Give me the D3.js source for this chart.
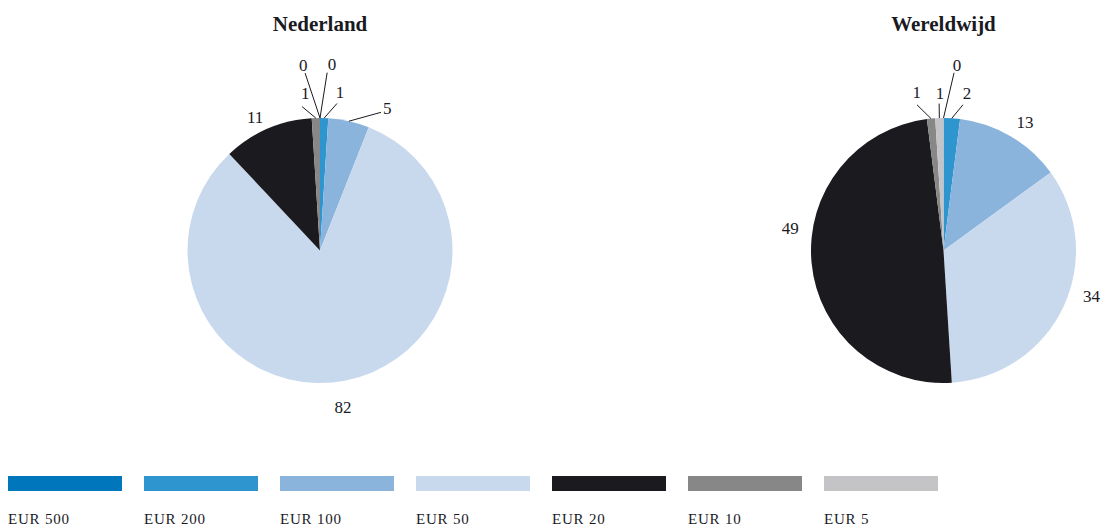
<!DOCTYPE html>
<html>
<head>
<meta charset="utf-8">
<script src="https://cdn.jsdelivr.net/npm/d3@7"></script>
<style>
    body { margin: 0; background: #fff; }
    text { font-family: "Liberation Serif", "DejaVu Serif", serif; fill: #1a1a1f; }
    .title { font-weight: bold; font-size: 21px; }
    .val { font-size: 17px; }
    .leg { font-size: 15px; letter-spacing: 0.8px; }
    .lead { stroke: #1a1a1f; stroke-width: 1; fill: none; }
</style>
</head>
<body>
<div id="chart"></div>
<script>

// data
const categories = ["EUR 500", "EUR 200", "EUR 100", "EUR 50", "EUR 20", "EUR 10", "EUR 5"];
const titles = ["Nederland", "Wereldwijd"];
const nederland = [0, 1, 5, 82, 11, 1, 0];
const wereldwijd = [0, 2, 13, 34, 49, 1, 1];

const colors = ["#0077bd", "#2e95cf", "#8ab4dc", "#c8d9ee", "#1a1a1f", "#878787", "#c4c4c6"];

// label placement per slice: [angle, radius, lineAngle, lineRadius] (degrees from 12 o'clock)
const nlLabels = [[3.7, 186, 2.3, 178], [7.2, 159, 6.6, 148], [25.4, 157, 23.8, 151],
                  [171.7, 159], [334, 148], [-5.4, 158, -7.1, 145], [-5.2, 186, -4.8, 178]];
const wwLabels = [[4.2, 186, 3.4, 178], [8.5, 159, 7.6, 147], [32.4, 152],
                  [107.4, 155], [278.3, 155], [-9.6, 160, -10.3, 148], [-1.3, 157, -1.7, 147]];

let width = 1105, height = 527;

let svg = d3.select("#chart").append("svg")
        .attr("width", width)
        .attr("height", height);

let radius = 132.5;
let pie = d3.pie().sort(null).value(d => d);
let arc = d3.arc().innerRadius(0).outerRadius(radius);

function polar(deg, r) {
    let a = deg * Math.PI / 180;
    return [Math.sin(a) * r, -Math.cos(a) * r];
}

function drawPie(cx, cy, title, values, labels) {
    let g = svg.append("g")
            .attr("transform", "translate(" + cx + "," + cy + ")");

    svg.append("text")
        .attr("class", "title")
        .attr("x", cx)
        .attr("y", 31)
        .attr("text-anchor", "middle")
        .text(title);

    let arcs = pie(values);

    g.selectAll("path.slice")
        .data(arcs)
        .enter().append("path")
        .attr("class", "slice")
        .attr("d", arc)
        .attr("fill", (d, i) => colors[i]);

    // leader lines for the thin slices
    arcs.forEach(function(d, i) {
        let l = labels[i];
        if (l.length > 2) {
            let mid = (d.startAngle + d.endAngle) / 2 * 180 / Math.PI;
            let p0 = polar(mid, radius);
            let p1 = polar(l[2], l[3]);
            g.append("line")
                .attr("class", "lead")
                .attr("x1", p0[0]).attr("y1", p0[1])
                .attr("x2", p1[0]).attr("y2", p1[1]);
        }
        let p = polar(l[0], l[1]);
        g.append("text")
            .attr("class", "val")
            .attr("x", p[0])
            .attr("y", p[1])
            .attr("text-anchor", "middle")
            .attr("dominant-baseline", "central")
            .text(d.data);
    });
}

drawPie(320, 250.5, titles[0], nederland, nlLabels);
drawPie(943.5, 250.5, titles[1], wereldwijd, wwLabels);

// legend, one swatch every 136px
let xLeg = d3.scaleBand()
        .domain(categories)
        .range([8, 8 + 136 * categories.length - 22])
        .paddingInner(22 / 136)
        .paddingOuter(0);

let leg = svg.append("g").attr("class", "legend");

leg.selectAll("rect")
    .data(categories)
    .enter().append("rect")
    .attr("x", d => xLeg(d))
    .attr("y", 476)
    .attr("width", xLeg.bandwidth())
    .attr("height", 15)
    .attr("fill", (d, i) => colors[i]);

leg.selectAll("text")
    .data(categories)
    .enter().append("text")
    .attr("class", "leg")
    .attr("x", d => xLeg(d))
    .attr("y", 524)
    .text(d => d);

</script>
</body>
</html>
